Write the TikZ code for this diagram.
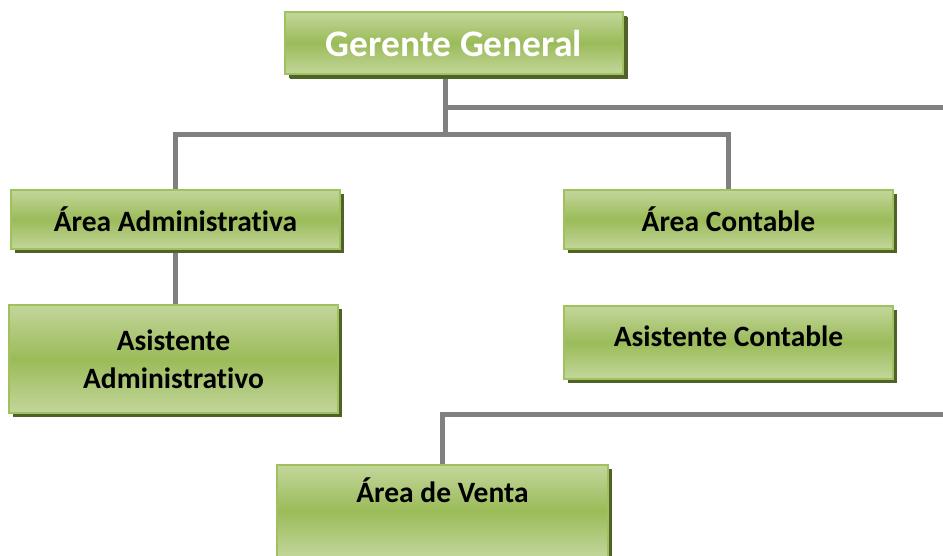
\documentclass[tikz,border=0pt]{standalone}
\usepackage{fontspec}
\setmainfont{Carlito}[Ligatures=NoCommon]
\usetikzlibrary{shadows,backgrounds}

\definecolor{verdeclaro}{HTML}{C3D69B}
\definecolor{verdemedio}{HTML}{9BBB59}
\definecolor{verdeborde}{HTML}{A0C25E}
\definecolor{sombra}{HTML}{4F6228}
\definecolor{gris}{HTML}{808080}

\begin{document}
\begin{tikzpicture}[x=1pt,y=-1pt,
        caja/.style={rectangle, draw=verdeborde, line width=2pt,
            top color=verdeclaro, bottom color=verdeclaro, middle color=verdemedio,
            drop shadow={shadow xshift=4pt, shadow yshift=-4pt, fill=sombra, opacity=1},
            minimum width=329pt, inner sep=0pt, align=center,
            font=\fontsize{29.5}{38}\selectfont\bfseries},
        conector/.style={draw=gris, line width=5pt}]

        \useasboundingbox (0,0) rectangle (943,555);

        % cajas
        \node[caja, minimum width=338pt, minimum height=62pt, text=white,
            font=\fontsize{37.5}{40}\selectfont\bfseries,
            drop shadow={shadow xshift=5pt, shadow yshift=-5pt, fill=sombra, opacity=1}] (gerente) at (454,43) {Gerente General};
        \node[caja, minimum height=59pt] (admin) at (175.5,219.5) {Área Administrativa};
        \node[caja, minimum height=59pt] (contable) at (728.5,219.5) {Área Contable};
        \node[caja, minimum height=108pt] (asisadmin) at (173.5,359) {Asistente\\Administrativo};
        \node[caja, minimum height=73pt, text height=20pt, text depth=12pt] (asiscontable) at (728.5,342.5) {Asistente Contable};
        \node[caja, minimum width=331pt, minimum height=92pt,
            text height=21pt, text depth=39pt] (venta) at (442.5,511) {Área de Venta};

        % lineas
        \coordinate (barra) at (445,134);
        \coordinate (finarriba) at (943,107);
        \coordinate (finabajo) at (943,414);
        \begin{pgfonlayer}{background}
            \draw[conector] (barra |- gerente.south) -- (barra);
            \draw[conector] (barra |- finarriba) -- (finarriba);
            \draw[conector] (admin.north) |- (barra) -| (contable.north);
            \draw[conector] (admin.south) -- (admin.south |- asisadmin.north);
            \draw[conector] (venta.north) |- (finabajo);
        \end{pgfonlayer}

    \end{tikzpicture}
\end{document}
